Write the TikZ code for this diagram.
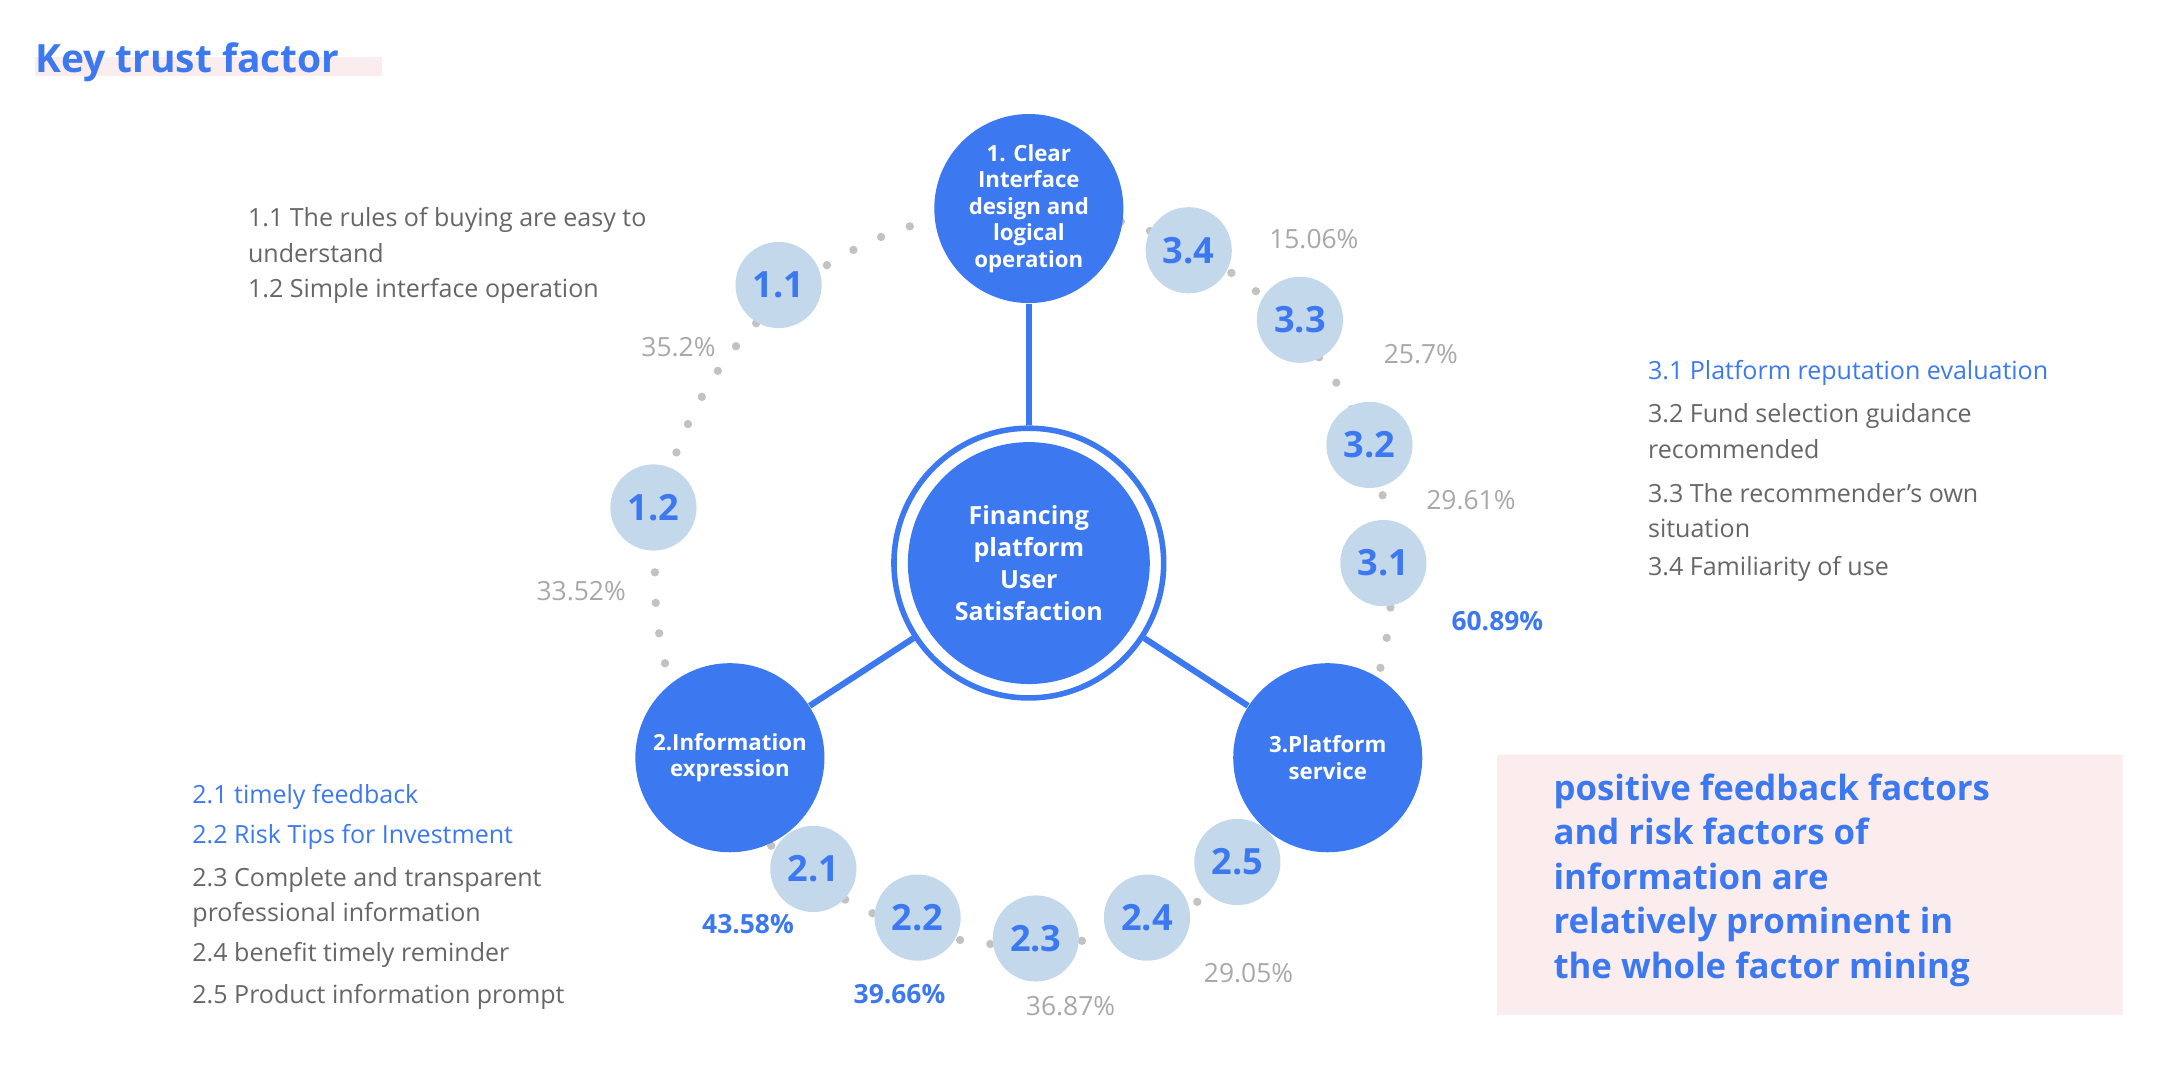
\documentclass[tikz,border=0pt]{standalone}
\usepackage{fontspec}
\setmainfont{Open Sans}
\definecolor{mblue}{HTML}{3C78F0}
\definecolor{lblue}{HTML}{C4D8EC}
\definecolor{tgray}{HTML}{666666}
\definecolor{pgray}{HTML}{A8A8A8}
\definecolor{pinkbg}{HTML}{FBEDED}
\begin{document}
\begin{tikzpicture}[x=0.5pt,y=-0.5pt,
  big/.style={circle,fill=mblue,minimum size=136\pgflinewidth,inner sep=0pt,text=white,font=\fontsize{8}{9.5}\selectfont\bfseries,align=center,line width=0.5pt},
  small/.style={circle,fill=lblue,minimum size=31pt,inner sep=0pt,text=mblue,font=\fontsize{13}{14}\selectfont\bfseries},
  pct/.style={text=pgray,font=\fontsize{9.5}{11}\selectfont,inner sep=0pt},
  pctb/.style={text=mblue,font=\fontsize{9.5}{11}\selectfont\bfseries,inner sep=0pt},
  lst/.style={text=tgray,font=\fontsize{9}{12}\selectfont,anchor=west,inner sep=0pt},
  lstb/.style={lst,text=mblue},
  link/.style={mblue,line width=2.2pt}]
\useasboundingbox (0,0) rectangle (1568,781);
\fill[pinkbg] (25,41) rectangle (275,55);
\node[anchor=west,inner sep=0pt,text=mblue,font=\fontsize{14}{16}\selectfont\bfseries] (title) at (25,45) {Key trust factor};
% dotted ring
\draw[pgray!70,line width=3pt,dash pattern=on 0pt off 11pt,line cap=round] (736,415) circle[radius=265];
% center
\node[circle,draw=mblue,line width=2pt,fill=white,minimum size=97pt,inner sep=0pt] (ring) at (740,405) {};
\node[big,minimum size=87pt,font=\fontsize{9}{11.5}\selectfont\bfseries] (c) at (740,405) {Financing\\platform\\User\\Satisfaction};
\node[big,minimum size=68pt] (n1) at (740,150) {1. Clear\\Interface\\design and\\logical\\operation};
\node[big,minimum size=68pt] (n2) at (525,545) {2.Information\\expression};
\node[big,minimum size=68pt] (n3) at (955,545) {3.Platform\\service};
\draw[link] (ring) -- (n1);
\draw[link] (ring) -- (n2);
\draw[link] (ring) -- (n3);
\foreach \n/\x/\y in {1.1/560/205,1.2/470/365,3.4/855/180,3.3/935/230,3.2/985/320,3.1/995/405,2.1/585/625,2.2/660/660,2.3/745/675,2.4/825/660,2.5/890/620}
  \node[small] (s\n) at (\x,\y) {\n};
\node[pct] (p1) at (488,250) {35.2\%};
\node[pct] (p2) at (418,425) {33.52\%};
\node[pct] (p3) at (945,172) {15.06\%};
\node[pct] (p4) at (1022,255) {25.7\%};
\node[pct] (p5) at (1058,360) {29.61\%};
\node[pctb] (p6) at (1077,447) {60.89\%};
\node[pctb] (p7) at (538,665) {43.58\%};
\node[pctb] (p8) at (647,715) {39.66\%};
\node[pct] (p9) at (770,724) {36.87\%};
\node[pct] (p10) at (898,700) {29.05\%};
% lists
\node[lst] (a1) at (178,158) {1.1 The rules of buying are easy to};
\node[lst] (a2) at (178,182) {understand};
\node[lst] (a3) at (178,209) {1.2 Simple interface operation};
\node[lstb] (b1) at (1185,268) {3.1 Platform reputation evaluation};
\node[lst] (b2) at (1185,299) {3.2 Fund selection guidance};
\node[lst] (b3) at (1185,323) {recommended};
\node[lst] (b4) at (1185,355) {3.3 The recommender's own};
\node[lst] (b5) at (1185,380) {situation};
\node[lst] (b6) at (1185,409) {3.4 Familiarity of use};
\node[lstb] (d1) at (138,573) {2.1 timely feedback};
\node[lstb] (d2) at (138,602) {2.2 Risk Tips for Investment};
\node[lst] (d3) at (138,633) {2.3 Complete and transparent};
\node[lst] (d4) at (138,658) {professional information};
\node[lst] (d5) at (138,687) {2.4 benefit timely reminder};
\node[lst] (d6) at (138,717) {2.5 Product information prompt};
% pink box
\fill[pinkbg] (1077,543) rectangle (1527,730);
\node[anchor=north west,inner sep=0pt,text=mblue,align=left,font=\fontsize{12.5}{16}\selectfont\bfseries] (box) at (1117,556) {positive feedback factors\\and risk factors of\\information are\\relatively prominent in\\the whole factor mining};
\end{tikzpicture}
\end{document}
